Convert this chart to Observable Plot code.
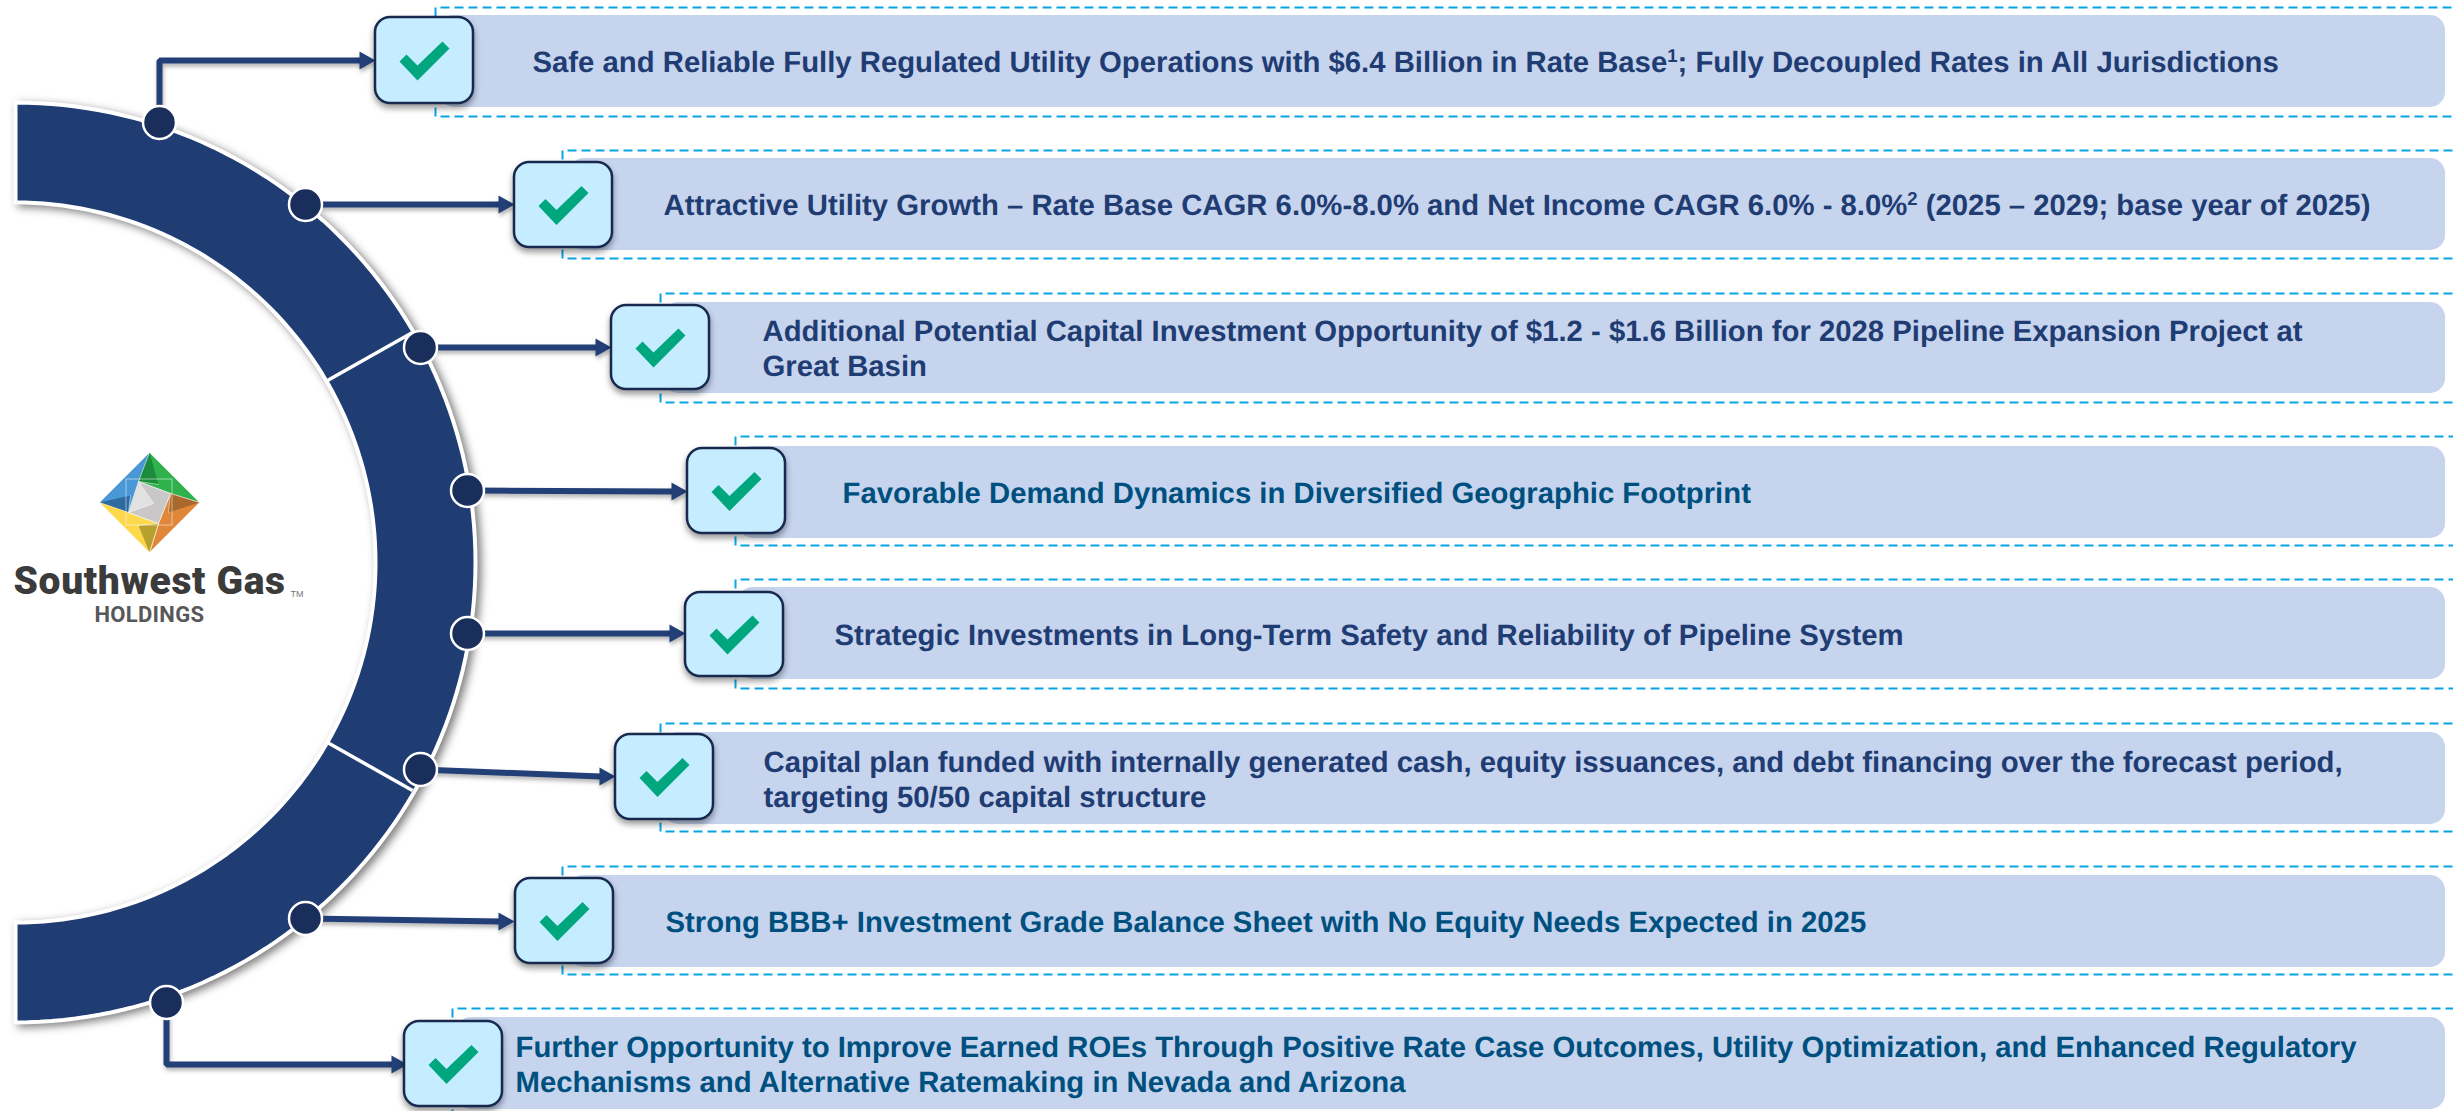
<!DOCTYPE html>
<html>
<head>
<meta charset="utf-8">
<script src="https://cdn.jsdelivr.net/npm/d3@7"></script>
<script src="https://cdn.jsdelivr.net/npm/@observablehq/plot@0.6"></script>
<style>
html,body{margin:0;padding:0;background:#fff;}
svg{display:block;}
g.ring{filter:drop-shadow(4px 3px 4px rgba(0,0,0,.5));}
g.connector,g.arrowhead{filter:drop-shadow(1px 3px 2px rgba(0,0,0,.3));}
g.box{filter:drop-shadow(0px 4px 3px rgba(0,0,0,.4));}
g.brand{letter-spacing:.65px;}
g.brandsub{letter-spacing:.3px;}
g.statement{text-rendering:geometricPrecision;}
</style>
</head>
<body>
<script>
const statements = [
  "Safe and Reliable Fully Regulated Utility Operations with $6.4 Billion in Rate Base¹; Fully Decoupled Rates in All Jurisdictions",
  "Attractive Utility Growth – Rate Base CAGR 6.0%-8.0% and Net Income CAGR 6.0% - 8.0%² (2025 – 2029; base year of 2025)",
  "Additional Potential Capital Investment Opportunity of $1.2 - $1.6 Billion for 2028 Pipeline Expansion Project at\nGreat Basin",
  "Favorable Demand Dynamics in Diversified Geographic Footprint",
  "Strategic Investments in Long-Term Safety and Reliability of Pipeline System",
  "Capital plan funded with internally generated cash, equity issuances, and debt financing over the forecast period,\ntargeting 50/50 capital structure",
  "Strong BBB+ Investment Grade Balance Sheet with No Equity Needs Expected in 2025",
  "Further Opportunity to Improve Earned ROEs Through Positive Rate Case Outcomes, Utility Optimization, and Enhanced Regulatory\nMechanisms and Alternative Ratemaking in Nevada and Arizona"
];
const textColors = ["#1f3c73","#1f3c73","#1f3c73","#00507f","#1f3c73","#1f3c73","#00507f","#00507f"];
const textX = [532,663,762,842,834,763,665,515];
const textBaseY = [71,214,375,502,644,806,931,1091];

const pillLeft = [439,569,663,738,738,663,569,456];
const pillRight = 2445;
const pillTop = [15,158,302,446,587,732,875,1017];
const pillBottom = [107,250,393,538,679,824,967,1109];
const dashLeft = [435,562,660,735,735,660,562,452];
const dashTop = [7,150,293,436,579,723,866,1008];
const dashBottom = [116,258,402,545,688,831,974,1118];

const boxLeft = [375,514,611,687,685,615,515,404];
const boxRight = [473,612,709,785,783,713,613,502];
const boxTop = [17,162,305,448,592,734,878,1021];
const boxBottom = [103,247,389,533,676,819,963,1106];

const nodeX = [159,305,420,467,467,420,305,166];
const nodeY = [122,204,347,490,633,769,918,1002];
const connectorX = [[159,159,362],[305,500],[420,596],[467,673],[467,670],[420,600],[305,500],[166,166,393]];
const connectorY = [[122,60,60],[204,204],[347,347],[490,491],[633,633],[769,776],[918,921],[1002,1064,1064]];
const tipX = [375,514,611,687,685,615,514,407];
const tipY = [60,204,347,491,633,776,921,1064];

const ringCx = 15, ringCy = 562, ringOuter = 460, ringInner = 360;
const separatorX = [[327,412],[327,412]];
const separatorY = [[380,332],[742,790]];

const checkDx = [-18,-7,18,25,-7,-25];
const checkDy = [-6,5,-19,-12,20,1];

const logoFacets = [
  {c:"#4a97d6",x:[149,99,128,138],y:[452,502,512,481]},
  {c:"#2c6a9f",x:[99,128,130],y:[502,512,495]},
  {c:"#2fb24c",x:[149,199,170,138],y:[452,502,493,481]},
  {c:"#1c8b3c",x:[149,138,158],y:[452,481,484]},
  {c:"#e0873a",x:[199,149,158,170],y:[502,552,523,493]},
  {c:"#a9682c",x:[199,170,168],y:[502,493,512]},
  {c:"#fdd84c",x:[99,149,158,128],y:[502,552,523,512]},
  {c:"#b8a02f",x:[149,158,138],y:[552,523,525]},
  {c:"#c9c7c7",x:[138,170,158,128],y:[481,493,523,512]},
  {c:"#e2e1e1",x:[138,153,128],y:[481,503,512]}
];
const logoSquare = {x1: 126, x2: 172, y1: 479, y2: 525};
const brandName = "Southwest Gas", brandSub = "HOLDINGS", brandMark = "TM";

// derived tables for the marks
const idx = d3.range(statements.length);
const tag = name => ({render(i, s, v, d, c, next) { const g = next(i, s, v, d, c); g.classList.add(name); return g; }});
const supers = {"¹": "1", "²": "2"};
const raiseSuperscripts = {render(i, s, v, d, c, next) {
  const g = next(i, s, v, d, c);
  g.classList.add("statement");
  const walker = document.createTreeWalker(g, NodeFilter.SHOW_TEXT);
  const nodes = [];
  while (walker.nextNode()) nodes.push(walker.currentNode);
  for (const node of nodes) {
    const m = node.data.match(/[¹²]/);
    if (!m) continue;
    const NS = "http://www.w3.org/2000/svg";
    const sup = document.createElementNS(NS, "tspan");
    sup.setAttribute("dy", -9.5); sup.setAttribute("font-size", 18.5);
    sup.textContent = supers[m[0]];
    const rest = document.createElementNS(NS, "tspan");
    rest.setAttribute("dy", 9.5);
    rest.textContent = node.data.slice(m.index + 1);
    node.data = node.data.slice(0, m.index);
    node.parentNode.insertBefore(rest, node.nextSibling);
    node.parentNode.insertBefore(sup, rest);
  }
  return g;
}};
const arc = (r, a0, a1) => d3.range(0, 121).map(i => {
  const a = a0 + (a1 - a0) * i / 120;
  return {x: ringCx + r * Math.sin(a), y: ringCy - r * Math.cos(a)};
});
const ring = [...arc(ringOuter, 0, Math.PI), ...arc(ringInner, Math.PI, 0)];
ring.push(ring[0]);
const connectors = idx.flatMap(i => connectorX[i].map((x, j) => ({i, x, y: connectorY[i][j]})));
const heads = idx.flatMap(i => [[tipX[i], tipY[i]], [tipX[i]-16, tipY[i]-9], [tipX[i]-16, tipY[i]+9]].map(([x, y]) => ({i, x, y})));
const checks = idx.flatMap(i => checkDx.map((dx, j) => ({i,
  x: (boxLeft[i] + boxRight[i]) / 2 + dx, y: (boxTop[i] + boxBottom[i]) / 2 + checkDy[j]})));
const dashes = idx.flatMap(i => [
  [dashLeft[i], dashTop[i] + 9], [dashLeft[i], dashTop[i]], [2460, dashTop[i]]
].map(([x, y]) => ({k: "t" + i, x, y})).concat([
  [dashLeft[i], dashBottom[i] - 9], [dashLeft[i], dashBottom[i]], [2460, dashBottom[i]]
].map(([x, y]) => ({k: "b" + i, x, y}))));
const separators = separatorX.flatMap((xs, i) => xs.map((x, j) => ({i, x, y: separatorY[i][j]})));
const facets = logoFacets.flatMap((f, k) => f.x.map((x, j) => ({k, c: f.c, x, y: f.y[j]})));
const textRows = idx.map(i => ({t: statements[i], x: textX[i], y: textBaseY[i], c: textColors[i]}));

const chart = Plot.plot({
  width: 2453, height: 1111,
  marginTop: 0, marginRight: 0, marginBottom: 0, marginLeft: 0,
  x: {domain: [0, 2453], range: [0, 2453], axis: null},
  y: {domain: [0, 1111], range: [0, 1111], axis: null},
  color: {type: "identity"},
  style: {background: "#fff"},
  marks: [
    Plot.line(dashes, {x: "x", y: "y", z: "k", stroke: "#09a5e3", strokeWidth: 2, strokeDasharray: "9 5", strokeLinecap: "butt", strokeLinejoin: "miter"}),
    Plot.rect(idx, {x1: i => pillLeft[i], x2: () => pillRight, y1: i => pillTop[i], y2: i => pillBottom[i], fill: "#c6d4ee", rx: 15}),
    Plot.line(ring, {x: "x", y: "y", fill: "#1f3c73", stroke: "#fff", strokeWidth: 4, ...tag("ring")}),
    Plot.line(separators, {x: "x", y: "y", z: "i", stroke: "#fff", strokeWidth: 3.5, strokeLinecap: "butt"}),
    Plot.line(connectors, {x: "x", y: "y", z: "i", stroke: "#223f78", strokeWidth: 6, strokeLinecap: "butt", strokeLinejoin: "miter", ...tag("connector")}),
    Plot.line(heads, {x: "x", y: "y", z: "i", fill: "#223f78", stroke: "none", ...tag("arrowhead")}),
    Plot.rect(idx, {x1: i => boxLeft[i], x2: i => boxRight[i], y1: i => boxTop[i], y2: i => boxBottom[i], fill: "#c6ecff", stroke: "#17294f", strokeWidth: 2.5, rx: 15, ...tag("box")}),
    Plot.line(checks, {x: "x", y: "y", z: "i", fill: "#00a67e", stroke: "none"}),
    Plot.dot(idx, {x: i => nodeX[i], y: i => nodeY[i], r: 16.5, fill: "#1a2e5c", stroke: "#fff", strokeWidth: 2.5}),
    Plot.text(textRows, {x: "x", y: "y", text: "t", fill: "c", textAnchor: "start", lineAnchor: "bottom", lineHeight: 1.195, fontFamily: "Liberation Sans", fontWeight: 700, fontSize: 29.3, ...raiseSuperscripts}),
    Plot.line(facets, {x: "x", y: "y", z: "k", fill: "c", stroke: "#fff", strokeWidth: 0.5}),
    Plot.rect([logoSquare], {x1: "x1", x2: "x2", y1: "y1", y2: "y2", fill: "none", stroke: "#fff", strokeOpacity: 0.5, strokeWidth: 1}),
    Plot.text([brandName], {x: () => 13, y: () => 593, text: d => d, fill: "#3b3b3b", textAnchor: "start", lineAnchor: "bottom", fontFamily: "Roboto", fontWeight: 900, fontSize: 39, ...tag("brand")}),
    Plot.text([brandSub], {x: () => 94, y: () => 621, text: d => d, fill: "#58585a", textAnchor: "start", lineAnchor: "bottom", fontFamily: "Roboto", fontWeight: 700, fontSize: 22, ...tag("brandsub")}),
    Plot.text([brandMark], {x: () => 290, y: () => 596, text: d => d, fill: "#777", textAnchor: "start", lineAnchor: "bottom", fontFamily: "Liberation Sans", fontSize: 9})
  ]
});
document.body.appendChild(chart);
</script>
</body>
</html>
